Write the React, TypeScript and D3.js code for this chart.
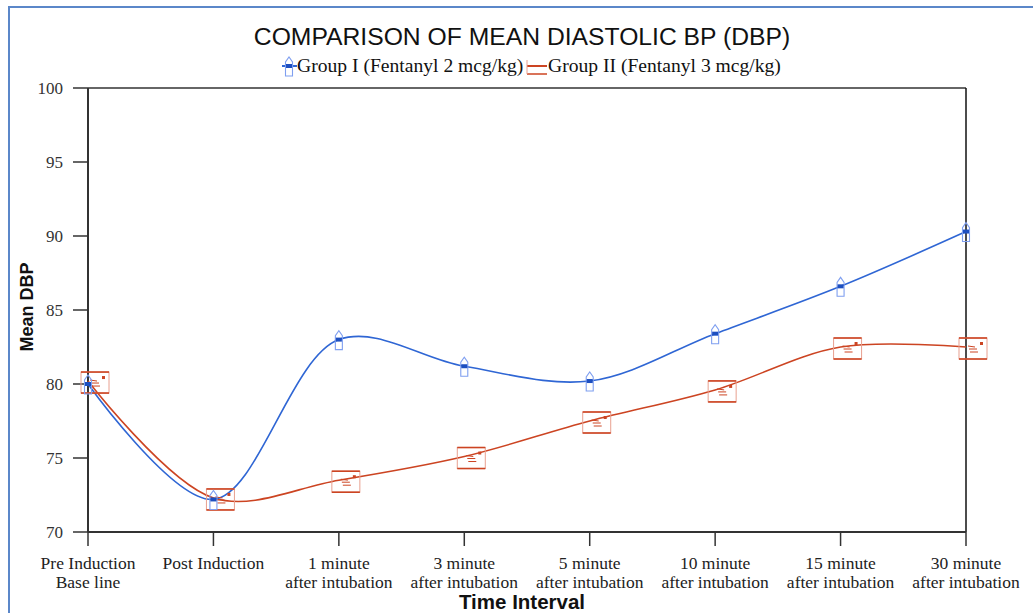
import React from "react";
import * as d3 from "d3";

const categories: string[][] = [
  ["Pre Induction", "Base line"],
  ["Post Induction"],
  ["1 minute", "after intubation"],
  ["3 minute", "after intubation"],
  ["5 minute", "after intubation"],
  ["10 minute", "after intubation"],
  ["15 minute", "after intubation"],
  ["30 minute", "after intubation"],
];
const group1: number[] = [80.0, 72.2, 83.0, 81.2, 80.2, 83.4, 86.6, 90.3];
const group2: number[] = [80.2, 72.3, 73.5, 75.1, 77.5, 79.6, 82.5, 82.5];
const yTicks: number[] = [70, 75, 80, 85, 90, 95, 100];
const seriesNames: string[] = ["Group I (Fentanyl 2 mcg/kg)", "Group II (Fentanyl 3 mcg/kg)"];

const W = 1033;
const H = 613;
const BLUE = "#2f66d4";
const RED = "#cc4422";
const AXIS = "#333";
const SERIF = "Liberation Serif, Times New Roman, serif";
const SANS = "Liberation Sans, Arial, sans-serif";

function BlueMarker({ x, y }: { x: number; y: number }) {
  const p = `M${x - 3.5},${y + 10} L${x - 3.5},${y - 4} L${x},${y - 9} L${x + 3.5},${y - 4} L${x + 3.5},${y + 10} Z`;
  return (
    <g>
      <path d={p} fill="none" stroke="#7f9ff0" strokeWidth={1.1} />
      <rect x={x - 3} y={y - 2} width={6} height={4} fill="#1d4fc0" />
    </g>
  );
}

function RedMarker({ x, y }: { x: number; y: number }) {
  const bx = x - 7;
  const by = y - 9;
  const bw = 28;
  const bh = 21;
  return (
    <g>
      <rect x={bx} y={by} width={bw} height={bh} fill="none" stroke="#e8a090" strokeWidth={1} />
      <line x1={bx} x2={bx + bw} y1={by} y2={by} stroke={RED} strokeWidth={1.6} />
      <line x1={bx} x2={bx + bw} y1={by + bh} y2={by + bh} stroke={RED} strokeWidth={1.6} />
      <line x1={bx + 9} x2={bx + 16} y1={by + 8} y2={by + 9} stroke={RED} strokeWidth={1} />
      <line x1={bx + 10} x2={bx + 18} y1={by + 11} y2={by + 11} stroke={RED} strokeWidth={1} />
      <line x1={bx + 11} x2={bx + 19} y1={by + 14} y2={by + 14} stroke={RED} strokeWidth={1} />
      <rect x={bx + 21} y={by + 4} width={3} height={3} fill={RED} />
    </g>
  );
}

export default function App() {
  const x0 = 88;
  const x1 = 966;
  const yTop = 88;
  const yBot = 532;

  const xs = d3
    .scalePoint<number>()
    .domain(categories.map((_, i) => i))
    .range([x0, x1]);
  const ys = d3.scaleLinear().domain([70, 100]).range([yBot, yTop]);

  const line = d3
    .line<number>()
    .x((_, i) => xs(i) as number)
    .y((d) => ys(d))
    .curve(d3.curveCatmullRom.alpha(0.5));

  return (
    <svg
      width={W}
      height={H}
      style={{ position: "absolute", left: 0, top: 0, background: "#fff" }}
      xmlns="http://www.w3.org/2000/svg"
    >
      <rect x={0} y={0} width={W} height={H} fill="#fff" />
      <line x1={9} x2={9} y1={6} y2={H} stroke="#5b87c9" strokeWidth={2} />
      <line x1={8} x2={W} y1={7} y2={7} stroke="#5b87c9" strokeWidth={2} />

      <text x={522} y={45} textAnchor="middle" fontFamily={SANS} fontSize={24.7} fill="#111">
        COMPARISON OF MEAN DIASTOLIC BP (DBP)
      </text>

      <g>
        <line x1={282} x2={297} y1={66} y2={66} stroke={BLUE} strokeWidth={2} />
        <BlueMarker x={289} y={66} />
        <text x={297} y={72} fontFamily={SERIF} fontSize={19.6} fill="#111">
          {seriesNames[0]}
        </text>
        <line x1={527} x2={547} y1={66} y2={66} stroke={RED} strokeWidth={2} />
        <line x1={527} x2={547} y1={74} y2={74} stroke={RED} strokeWidth={1.5} />
        <line x1={527} x2={527} y1={60} y2={74} stroke="#e8a090" strokeWidth={1} />
        <text x={548} y={72} fontFamily={SERIF} fontSize={19.6} fill="#111">
          {seriesNames[1]}
        </text>
      </g>

      <line x1={x0} x2={x1} y1={yTop} y2={yTop} stroke={AXIS} strokeWidth={1.5} />
      <line x1={x1} x2={x1} y1={yTop} y2={yBot} stroke="#111" strokeWidth={1.5} />
      <line x1={x0} x2={x0} y1={yTop} y2={yBot} stroke={AXIS} strokeWidth={2} />
      <line x1={x0} x2={x1} y1={yBot} y2={yBot} stroke={AXIS} strokeWidth={2} />

      {yTicks.map((t) => (
        <g key={t}>
          <line x1={73} x2={x0} y1={ys(t)} y2={ys(t)} stroke={AXIS} strokeWidth={1.5} />
          <text x={63} y={ys(t)} dy="0.35em" textAnchor="end" fontFamily={SERIF} fontSize={17} fill="#333">
            {t}
          </text>
        </g>
      ))}

      {categories.map((c, i) => (
        <g key={i}>
          <line x1={xs(i)} x2={xs(i)} y1={yBot} y2={yBot + 14} stroke={AXIS} strokeWidth={1.5} />
          {c.map((s, j) => (
            <text
              key={j}
              x={xs(i)}
              y={568.5 + j * 19.5}
              textAnchor="middle"
              fontFamily={SERIF}
              fontSize={17.5}
              fill="#222"
            >
              {s}
            </text>
          ))}
        </g>
      ))}

      <text x={522} y={609} textAnchor="middle" fontFamily={SANS} fontWeight="bold" fontSize={20.5} fill="#111">
        Time Interval
      </text>
      <text
        transform={`translate(33,307) rotate(-90)`}
        textAnchor="middle"
        fontFamily={SANS}
        fontWeight="bold"
        fontSize={18}
        fill="#111"
      >
        Mean DBP
      </text>

      <path d={line(group2) || ""} fill="none" stroke={RED} strokeWidth={1.6} />
      <path d={line(group1) || ""} fill="none" stroke={BLUE} strokeWidth={1.6} />

      {group2.map((v, i) => (
        <RedMarker key={"r" + i} x={xs(i) as number} y={ys(v)} />
      ))}
      {group1.map((v, i) => (
        <BlueMarker key={"b" + i} x={xs(i) as number} y={ys(v)} />
      ))}
    </svg>
  );
}
